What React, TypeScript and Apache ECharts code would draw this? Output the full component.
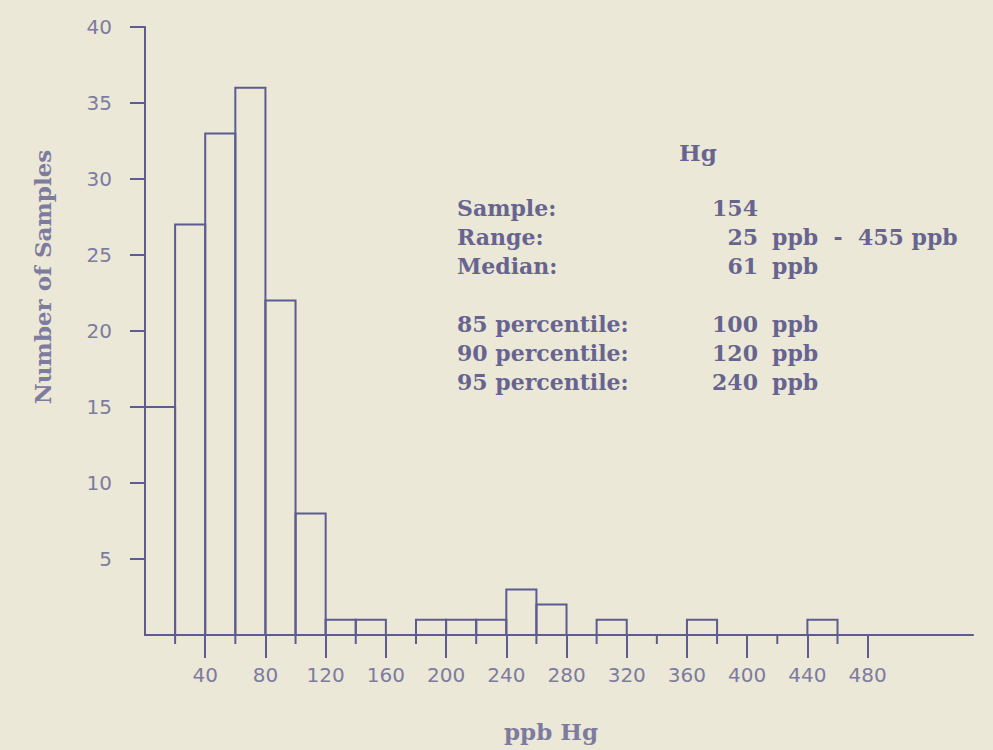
import React, { useEffect, useRef } from "react";
import * as echarts from "echarts";

// Histogram bins (ppb Hg), 20 ppb wide
const binStart = [0, 20, 40, 60, 80, 100, 120, 140, 160, 180, 200, 220, 240, 260, 280, 300, 320, 340, 360, 380, 400, 420, 440, 460];
const binWidth = 20;
const counts = [15, 27, 33, 36, 22, 8, 1, 1, 0, 1, 1, 1, 3, 2, 0, 1, 0, 0, 1, 0, 0, 0, 1, 0];

const xMajorTicks = [40, 80, 120, 160, 200, 240, 280, 320, 360, 400, 440, 480];
const xMinorTicks = [20, 60, 100, 140, 180, 220, 260, 300, 340, 380, 420, 460];
const yTicks = [5, 10, 15, 20, 25, 30, 35, 40];

const statTitle = "Hg";
const statLabels = ["Sample:", "Range:", "Median:", "85 percentile:", "90 percentile:", "95 percentile:"];
const statValues = ["154", "25", "61", "100", "120", "240"];
const statUnits = ["", "ppb  -  455 ppb", "ppb", "ppb", "ppb", "ppb"];
const statRows = [0, 1, 2, 4, 5, 6];

const xTitle = "ppb Hg";
const yTitle = "Number of Samples";

const INK = "#5d5b8f";
const LABEL = "#7d7b9e";
const TEXT = "#67648f";
const BG = "#ebe8d8";

export default function App() {
  const ref = useRef<HTMLDivElement>(null);

  useEffect(() => {
    if (!ref.current) return;
    const chart = echarts.init(ref.current, undefined, { renderer: "svg" });

    const bars = binStart
      .map((s, i) => [s, s + binWidth, counts[i]])
      .filter((d) => d[2] > 0);

    const serif = '"DejaVu Serif", serif';
    const sans = '"DejaVu Sans", sans-serif';

    const graphics: any[] = [];
    graphics.push({
      type: "text",
      x: 698,
      y: 152,
      style: { text: statTitle, fill: TEXT, font: `bold 23px ${serif}`, align: "center", verticalAlign: "middle" },
    });
    statLabels.forEach((lab, i) => {
      const y = 208 + statRows[i] * 29;
      graphics.push({
        type: "text",
        x: 457,
        y,
        style: { text: lab, fill: TEXT, font: `bold 22px ${serif}`, align: "left", verticalAlign: "middle" },
      });
      graphics.push({
        type: "text",
        x: 758,
        y,
        style: { text: statValues[i], fill: TEXT, font: `bold 22px ${serif}`, align: "right", verticalAlign: "middle" },
      });
      if (statUnits[i]) {
        graphics.push({
          type: "text",
          x: 772,
          y,
          style: { text: statUnits[i], fill: TEXT, font: `bold 22px ${serif}`, align: "left", verticalAlign: "middle" },
        });
      }
    });
    graphics.push({
      type: "text",
      x: 551,
      y: 731,
      style: { text: xTitle, fill: LABEL, font: `bold 23px ${serif}`, align: "center", verticalAlign: "middle" },
    });
    graphics.push({
      type: "text",
      x: 42,
      y: 277,
      rotation: Math.PI / 2,
      style: { text: yTitle, fill: LABEL, font: `bold 23px ${serif}`, align: "center", verticalAlign: "middle" },
    });

    chart.setOption({
      animation: false,
      backgroundColor: BG,
      grid: { left: 145, right: 20, top: 27, bottom: 115, containLabel: false, outerBoundsMode: "none" },
      xAxis: {
        type: "value",
        min: 0,
        max: 550,
        interval: 40,
        axisLine: { show: true, onZero: false, lineStyle: { color: INK, width: 2 } },
        axisTick: { show: true, customValues: xMajorTicks, length: 23, lineStyle: { color: INK, width: 2 } },
        axisLabel: {
          customValues: xMajorTicks,
          margin: 30,
          color: LABEL,
          fontFamily: sans,
          fontSize: 20,
          formatter: (v: number) => (v > 0 && v <= 480 ? String(v) : ""),
        },
        splitLine: { show: false },
      },
      yAxis: {
        type: "value",
        min: 0,
        max: 40,
        interval: 5,
        axisLine: { show: true, lineStyle: { color: INK, width: 2 } },
        axisTick: { show: true, customValues: yTicks, length: 15, lineStyle: { color: INK, width: 2 } },
        axisLabel: {
          customValues: yTicks,
          margin: 33,
          color: LABEL,
          fontFamily: sans,
          fontSize: 20,
          formatter: (v: number) => (v > 0 ? String(v) : ""),
        },
        splitLine: { show: false },
      },
      series: [
        {
          type: "custom",
          name: "bins",
          data: bars,
          renderItem: (_p: any, api: any) => {
            const p0 = api.coord([api.value(0), api.value(2)]);
            const p1 = api.coord([api.value(1), 0]);
            return {
              type: "rect",
              shape: { x: p0[0], y: p0[1], width: p1[0] - p0[0], height: p1[1] - p0[1] },
              style: { fill: "none", stroke: INK, lineWidth: 2 },
            };
          },
        },
        {
          type: "custom",
          name: "minorTicks",
          data: xMinorTicks.map((v) => [v]),
          renderItem: (_p: any, api: any) => {
            const p = api.coord([api.value(0), 0]);
            return {
              type: "line",
              shape: { x1: p[0], y1: p[1], x2: p[0], y2: p[1] + 9 },
              style: { stroke: INK, lineWidth: 2 },
            };
          },
        },
      ],
      graphic: graphics,
    });

    return () => chart.dispose();
  }, []);

  return (
    <div
      ref={ref}
      style={{ position: "absolute", left: 0, top: 0, width: 993, height: 750, background: BG }}
    />
  );
}
